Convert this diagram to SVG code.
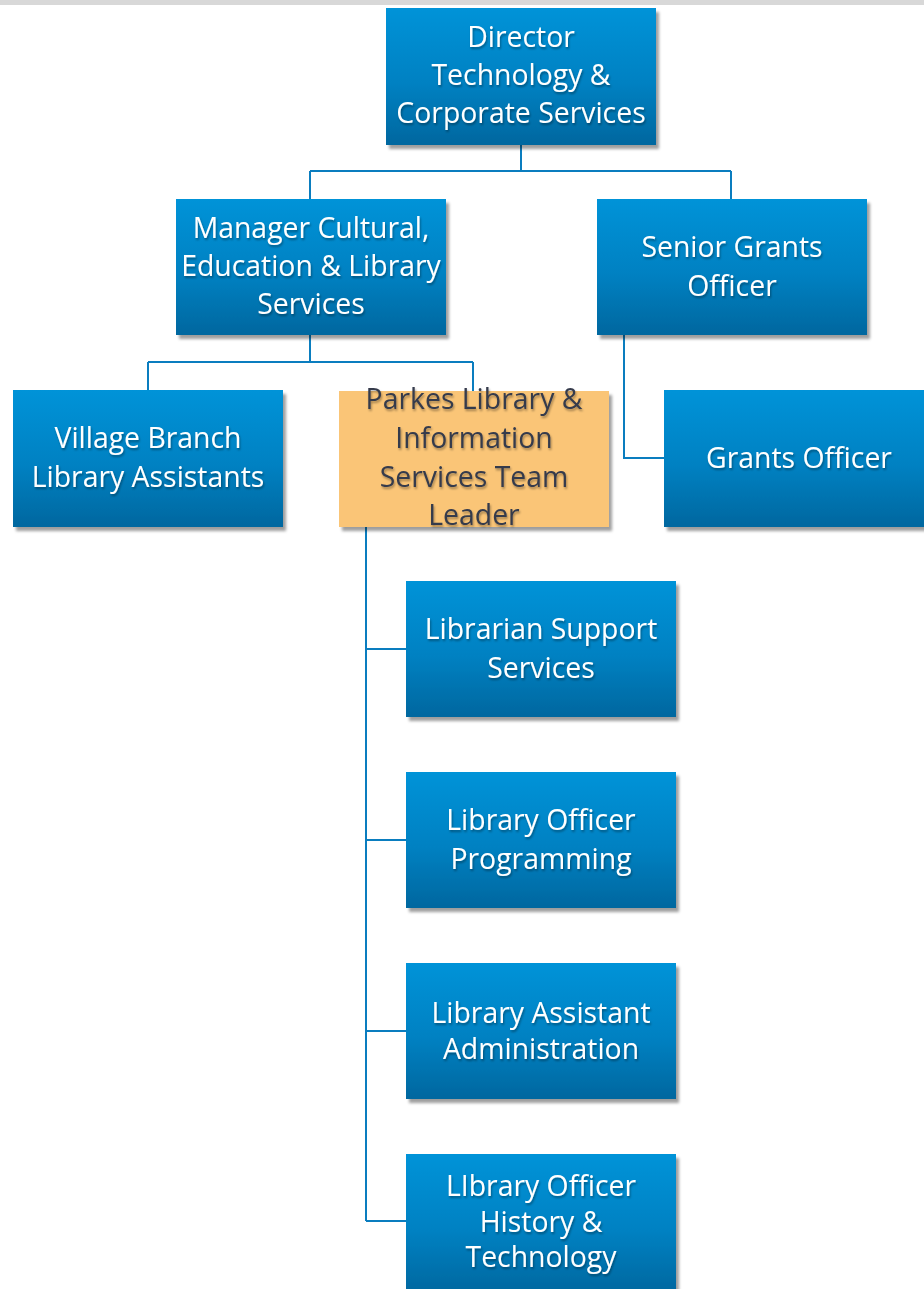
<svg xmlns="http://www.w3.org/2000/svg" width="924" height="1289" viewBox="0 0 924 1289">
  <defs>
    <linearGradient id="blueFill" x1="0" y1="0" x2="0" y2="1">
      <stop offset="0" stop-color="#0093d8"/>
      <stop offset="0.55" stop-color="#0081c2"/>
      <stop offset="1" stop-color="#00679f"/>
    </linearGradient>
    <filter id="boxShadow" x="-5%" y="-5%" width="115%" height="120%">
      <feGaussianBlur in="SourceAlpha" stdDeviation="1.5"/>
      <feOffset dx="3" dy="4" result="b"/>
      <feFlood flood-color="#000" flood-opacity="0.38"/>
      <feComposite in2="b" operator="in"/>
      <feMerge><feMergeNode/><feMergeNode in="SourceGraphic"/></feMerge>
    </filter>
    <filter id="textShadow" x="-5%" y="-20%" width="110%" height="140%">
      <feGaussianBlur in="SourceAlpha" stdDeviation="0.8"/>
      <feOffset dx="1" dy="1.5" result="b"/>
      <feFlood flood-color="#000" flood-opacity="0.35"/>
      <feComposite in2="b" operator="in"/>
      <feMerge><feMergeNode/><feMergeNode in="SourceGraphic"/></feMerge>
    </filter>
  </defs>
  <style>
    .box { fill: url(#blueFill); filter: url(#boxShadow); }
    .hl { fill: #fac577; filter: url(#boxShadow); }
    .lbl { font-family: "Open Sans", "Liberation Sans", sans-serif; font-size: 28.4px; fill: #ffffff; text-anchor: middle; filter: url(#textShadow); }
    .dark { fill: #363b4c; }
    .wire { fill: none; stroke: #0a7dbf; stroke-width: 2; }
  </style>

  <rect x="0" y="0" width="924" height="5" fill="#d8d8d8"/>

  <g id="connectors">
    <path class="wire" d="M521,145 V171 M310,171 H731 M310,171 V199 M731,171 V199"/>
    <path class="wire" d="M310,335 V362 M148,362 H473 M148,362 V390 M473,362 V391"/>
    <path class="wire" d="M624,335 V458 H664"/>
    <path class="wire" d="M366,527 V1221 M366,649 H406 M366,840 H406 M366,1031 H406 M366,1221 H406"/>
  </g>

  <g id="director">
    <rect class="box" x="386" y="8" width="270" height="137"/>
    <text class="lbl" x="521" y="47">Director</text>
    <text class="lbl" x="521" y="85">Technology &amp;</text>
    <text class="lbl" x="521" y="123">Corporate Services</text>
  </g>

  <g id="manager">
    <rect class="box" x="176" y="199" width="270" height="136"/>
    <text class="lbl" x="311" y="238">Manager Cultural,</text>
    <text class="lbl" x="311" y="276">Education &amp; Library</text>
    <text class="lbl" x="311" y="314">Services</text>
  </g>

  <g id="senior-grants">
    <rect class="box" x="597" y="199" width="270" height="136"/>
    <text class="lbl" x="732" y="257">Senior Grants</text>
    <text class="lbl" x="732" y="296">Officer</text>
  </g>

  <g id="village-branch">
    <rect class="box" x="13" y="390" width="270" height="137"/>
    <text class="lbl" x="148" y="448">Village Branch</text>
    <text class="lbl" x="148" y="487">Library Assistants</text>
  </g>

  <g id="team-leader">
    <rect class="hl" x="339" y="391" width="270" height="136"/>
    <text class="lbl dark" x="474" y="409">Parkes Library &amp;</text>
    <text class="lbl dark" x="474" y="448">Information</text>
    <text class="lbl dark" x="474" y="487">Services Team</text>
    <text class="lbl dark" x="474" y="525">Leader</text>
  </g>

  <g id="grants-officer">
    <rect class="box" x="664" y="390" width="270" height="137"/>
    <text class="lbl" x="799" y="468">Grants Officer</text>
  </g>

  <g id="librarian-support">
    <rect class="box" x="406" y="581" width="270" height="136"/>
    <text class="lbl" x="541" y="639">Librarian Support</text>
    <text class="lbl" x="541" y="678">Services</text>
  </g>

  <g id="officer-programming">
    <rect class="box" x="406" y="772" width="270" height="136"/>
    <text class="lbl" x="541" y="830">Library Officer</text>
    <text class="lbl" x="541" y="869">Programming</text>
  </g>

  <g id="assistant-admin">
    <rect class="box" x="406" y="963" width="270" height="136"/>
    <text class="lbl" x="541" y="1023">Library Assistant</text>
    <text class="lbl" x="541" y="1059">Administration</text>
  </g>

  <g id="officer-history">
    <rect class="box" x="406" y="1154" width="270" height="140"/>
    <text class="lbl" x="541" y="1196">LIbrary Officer</text>
    <text class="lbl" x="541" y="1232">History &amp;</text>
    <text class="lbl" x="541" y="1267">Technology</text>
  </g>
</svg>
